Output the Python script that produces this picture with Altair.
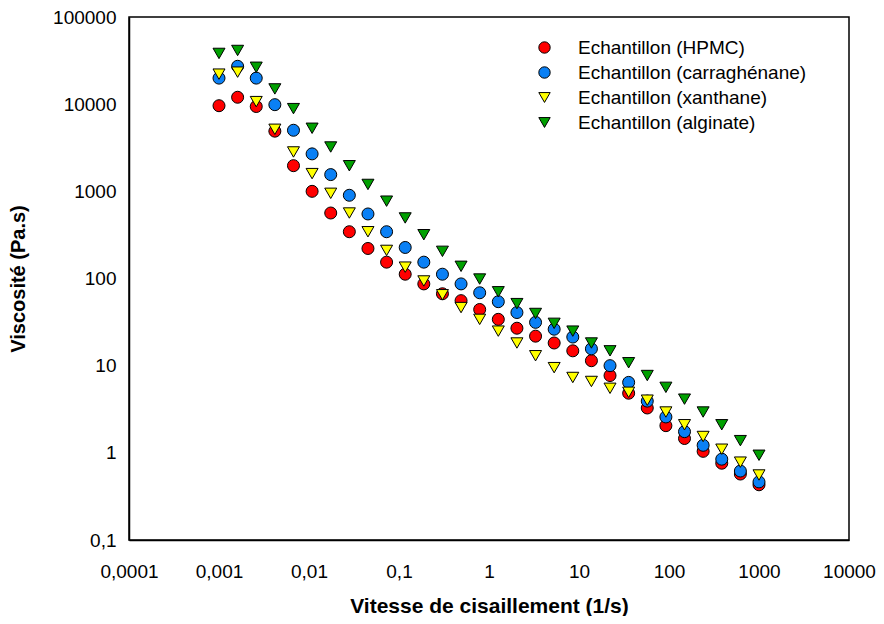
import altair as alt
import pandas as pd

# Shear rate (1/s)
shear_rate = [0.001, 0.00161, 0.002593, 0.004175, 0.006723, 0.010826, 0.017433, 0.02807,
              0.0452, 0.07279, 0.1172, 0.1887, 0.3039, 0.4893, 0.788, 1.269, 2.043, 3.29,
              5.298, 8.532, 13.74, 22.12, 35.62, 57.36, 92.37, 148.7, 239.5, 385.7, 621.1, 1000]

# Viscosity (Pa.s)
hpmc = [9600, 12000, 9400, 4900, 1970, 1000, 564, 344, 221, 154, 112, 86.7, 66.8, 55.7, 44.1,
        34.0, 26.9, 21.8, 18.2, 14.8, 11.4, 7.7, 4.83, 3.27, 2.05, 1.46, 1.04, 0.76, 0.571, 0.43]
carraghenane = [19900, 27200, 19900, 9870, 5020, 2690, 1556, 901, 550, 344, 227, 154, 112, 86.7,
                68.6, 54.2, 40.7, 31.4, 26.2, 21.3, 15.6, 10.0, 6.43, 3.92, 2.58, 1.75, 1.22,
                0.846, 0.618, 0.464]
xanthane = [22100, 23300, 10700, 5150, 2830, 1597, 949, 564, 344, 210, 135, 93.7, 65.1, 46.4,
            34.0, 24.9, 18.2, 13.0, 9.49, 7.32, 6.59, 5.5, 4.95, 4.02, 2.94, 2.1, 1.54, 1.1,
            0.782, 0.557]
alginate = [38200, 41300, 26500, 14960, 8890, 5290, 3225, 1966, 1200, 771, 495, 318, 205, 138,
            98.6, 70.4, 51.5, 39.7, 30.6, 24.9, 18.2, 14.8, 10.8, 7.71, 5.64, 4.13, 2.94, 2.1,
            1.38, 0.938]

series_names = ["Echantillon (HPMC)", "Echantillon (carraghénane)",
                "Echantillon (xanthane)", "Echantillon (alginate)"]
series_values = [hpmc, carraghenane, xanthane, alginate]
series_colors = ["#FF0000", "#0A80F5", "#FFFF00", "#00A000"]
series_shapes = ["circle", "circle", "triangle-down", "triangle-down"]

x_ticks = [0.0001, 0.001, 0.01, 0.1, 1, 10, 100, 1000, 10000]
y_ticks = [0.1, 1, 10, 100, 1000, 10000, 100000]
x_range = [0.0001, 10000]
y_range = [0.1, 100000]

rows = []
for name, vals in zip(series_names, series_values):
    for xv, yv in zip(shear_rate, vals):
        rows.append({"x": xv, "y": yv, "serie": name})
df = pd.DataFrame(rows)

FONT = "Liberation Sans"
label_expr = "replace(toString(datum.value), '.', ',')"

xscale = alt.Scale(type="log", domain=x_range, nice=False)
yscale = alt.Scale(type="log", domain=y_range, nice=False)

chart = alt.Chart(df).mark_point(
    filled=True, size=144, stroke="black", strokeWidth=1, opacity=1
).encode(
    x=alt.X("x:Q", scale=xscale, axis=alt.Axis(
        values=x_ticks, labelExpr=label_expr, ticks=False, grid=False,
        domain=True, domainColor="black", domainWidth=1.5,
        labelFlush=False, labelOverlap=False, labelBound=False,
        labelFont=FONT, labelFontSize=19, labelColor="black", labelPadding=22,
        title="Vitesse de cisaillement (1/s)", titleFont=FONT, titleFontSize=21,
        titleFontWeight="bold", titleColor="black", titlePadding=14)),
    y=alt.Y("y:Q", scale=yscale, axis=alt.Axis(
        values=y_ticks, labelExpr=label_expr, ticks=False, grid=False,
        domain=True, domainColor="black", domainWidth=1.5,
        labelFlush=False, labelOverlap=False, labelBound=False,
        labelFont=FONT, labelFontSize=19, labelColor="black", labelPadding=13,
        title="Viscosité (Pa.s)", titleFont=FONT, titleFontSize=20,
        titleFontWeight="bold", titleColor="black", titlePadding=24)),
    color=alt.Color("serie:N", sort=series_names,
                    scale=alt.Scale(domain=series_names, range=series_colors),
                    legend=alt.Legend(title=None, orient="none", legendX=406, legendY=21,
                                      labelFont=FONT, labelFontSize=19, labelColor="black",
                                      labelLimit=0, labelOffset=24, rowPadding=5, padding=0,
                                      symbolSize=130, symbolStrokeColor="black",
                                      symbolStrokeWidth=1, symbolOpacity=1)),
    shape=alt.Shape("serie:N", sort=series_names,
                    scale=alt.Scale(domain=series_names, range=series_shapes)),
).properties(
    width=868, height=608,
    autosize=alt.AutoSizeParams(type="fit", contains="padding"),
    padding={"left": 0, "top": 0, "right": 0, "bottom": 0},
).configure_view(stroke="black", strokeWidth=1.5)

chart.save("out.html", embed_options={"renderer": "svg", "actions": False})
